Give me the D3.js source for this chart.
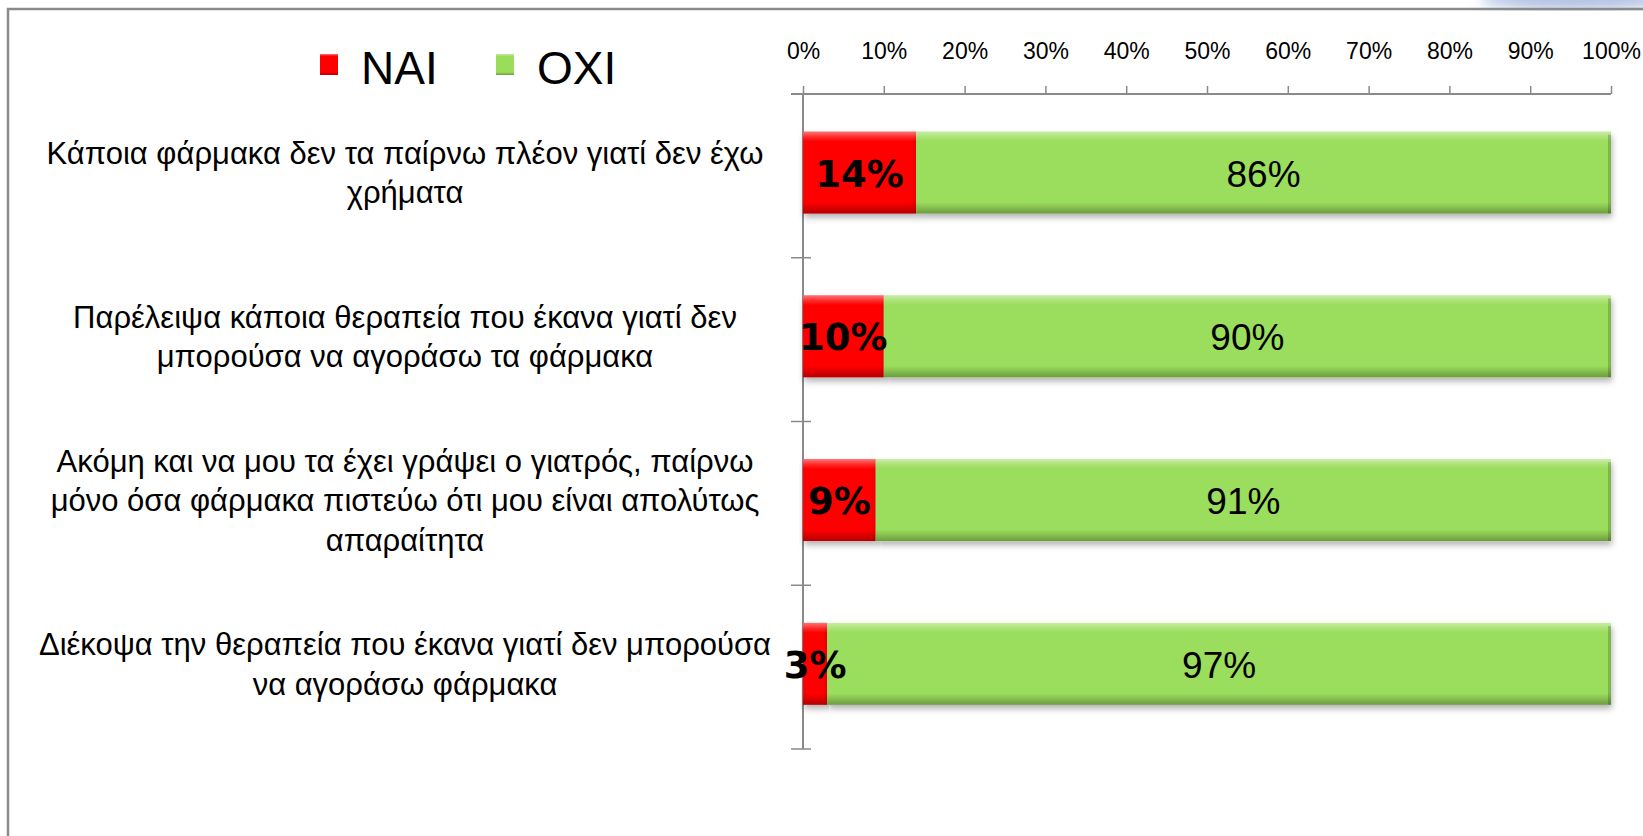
<!DOCTYPE html>
<html>
<head>
<meta charset="utf-8">
<script src="https://cdn.jsdelivr.net/npm/d3@7"></script>
<style>
  body { margin: 0; background: #fff; }
  svg { display: block; }
</style>
</head>
<body>
<div id="chart"></div>
<script>
// chart data
var categories = [
  ["Κάποια φάρμακα δεν τα παίρνω πλέον γιατί δεν έχω", "χρήματα"],
  ["Παρέλειψα κάποια θεραπεία που έκανα γιατί δεν", "μπορούσα να αγοράσω τα φάρμακα"],
  ["Ακόμη και να μου τα έχει γράψει ο γιατρός, παίρνω", "μόνο όσα φάρμακα πιστεύω ότι μου είναι απολύτως", "απαραίτητα"],
  ["Διέκοψα την θεραπεία που έκανα γιατί δεν μπορούσα", "να αγοράσω φάρμακα"]
];
var naiValues = [14, 10, 9, 3];
var oxiValues = [86, 90, 91, 97];
var seriesNames = ["ΝΑΙ", "ΟΧΙ"];
var seriesColors = ["#ff0000", "#9bdd5b"];

var W = 1643, H = 836;
var margin = {top: 94, left: 803, right: 33, bottom: 87};

var svg = d3.select("#chart")
  .append("svg")
    .attr("width", W)
    .attr("height", H);

var defs = svg.append("defs");

// bevel shading used over every bar segment
var vg = defs.append("linearGradient")
    .attr("id", "bevelV").attr("x1", 0).attr("y1", 0).attr("x2", 0).attr("y2", 1);
[[0, "#fff", 0.45], [0.07, "#fff", 0.15], [0.12, "#fff", 0], [0.86, "#000", 0],
 [0.92, "#000", 0.12], [1, "#000", 0.3]].forEach(function(s) {
  vg.append("stop").attr("offset", s[0]).attr("stop-color", s[1]).attr("stop-opacity", s[2]);
});

var shadow = defs.append("filter").attr("id", "shadow")
    .attr("x", "-5%").attr("y", "-20%").attr("width", "110%").attr("height", "150%");
shadow.append("feDropShadow")
    .attr("dx", 1).attr("dy", 4).attr("stdDeviation", 3)
    .attr("flood-color", "#000").attr("flood-opacity", 0.3);

var blur = defs.append("filter").attr("id", "blur");
blur.append("feGaussianBlur").attr("stdDeviation", 6);

// decorative corner swoosh and frame
svg.append("ellipse")
    .attr("cx", 1575).attr("cy", 0).attr("rx", 95).attr("ry", 9)
    .attr("fill", "#aebfe2").attr("filter", "url(#blur)");
svg.append("rect")
    .attr("x", 8).attr("y", 9).attr("width", 1700).attr("height", 900)
    .attr("fill", "none").attr("stroke", "#8a8a8a").attr("stroke-width", 2.5);

// scales
var x = d3.scaleLinear()
  .domain([0, 100])
  .range([margin.left, W - margin.right + 1]);

var y = d3.scaleBand()
  .domain(d3.range(categories.length))
  .range([margin.top, H - margin.bottom])
  .paddingInner(0.5)
  .paddingOuter(0.25)
  .align(0.46);

// top axis
var xAxis = svg.append("g")
  .attr("transform", "translate(0," + margin.top + ")")
  .call(d3.axisTop(x)
    .tickValues(d3.range(0, 101, 10))
    .tickSize(8)
    .tickPadding(27)
    .tickFormat(function(d) { return d + "%"; }));
xAxis.select(".domain").remove();
xAxis.append("line")
  .attr("x1", margin.left - 12).attr("x2", x(100))
  .attr("stroke", "#8a8a8a").attr("stroke-width", 2);
xAxis.selectAll(".tick line").attr("stroke", "#8a8a8a").attr("stroke-width", 1.5);
xAxis.selectAll(".tick text")
  .attr("fill", "#000")
  .style("font-family", "'Liberation Sans', Arial, sans-serif")
  .style("font-size", "23px");

// category axis line with ticks at band edges
var yAxis = svg.append("g");
yAxis.append("line")
  .attr("x1", margin.left).attr("x2", margin.left)
  .attr("y1", margin.top).attr("y2", H - margin.bottom)
  .attr("stroke", "#8a8a8a").attr("stroke-width", 2);
yAxis.selectAll("line.ytick")
  .data(d3.range(categories.length + 1))
  .enter().append("line")
    .attr("class", "ytick")
    .attr("x1", margin.left - 12).attr("x2", margin.left + 8)
    .attr("y1", function(i) { return margin.top + i * y.step(); })
    .attr("y2", function(i) { return margin.top + i * y.step(); })
    .attr("stroke", "#8a8a8a").attr("stroke-width", 1.5);

// bars
var rows = categories.map(function(c, i) {
  return {i: i, nai: naiValues[i], oxi: oxiValues[i]};
});

var bar = svg.selectAll("g.bar")
  .data(rows)
  .enter().append("g")
    .attr("class", "bar");

function segment(g, x0, x1, color) {
  var yy = y(g.datum().i), h = y.bandwidth();
  g.append("rect")
    .attr("x", x(x0)).attr("y", yy)
    .attr("width", x(x1) - x(x0)).attr("height", h)
    .attr("fill", color).attr("filter", "url(#shadow)");
  g.append("rect")
    .attr("x", x(x0)).attr("y", yy)
    .attr("width", x(x1) - x(x0)).attr("height", h)
    .attr("fill", "url(#bevelV)");
}

bar.each(function(d) {
  var g = d3.select(this);
  segment(g, 0, d.nai, seriesColors[0]);
  segment(g, d.nai, d.nai + d.oxi, seriesColors[1]);
  // right bevel edge
  g.append("rect")
    .attr("x", x(d.nai + d.oxi) - 3).attr("y", y(d.i) + 3)
    .attr("width", 3).attr("height", y.bandwidth() - 3)
    .attr("fill", "#000").attr("opacity", 0.18);
});

// value labels
bar.append("text")
  .attr("x", function(d) { return (x(0) + x(d.nai)) / 2; })
  .attr("y", function(d) { return y(d.i) + y.bandwidth() / 2 + 14; })
  .attr("text-anchor", "middle")
  .style("font-family", "'DejaVu Sans', Verdana, sans-serif")
  .style("font-weight", "bold")
  .style("font-size", "37px")
  .text(function(d) { return d.nai + "%"; });

bar.append("text")
  .attr("x", function(d) { return (x(d.nai) + x(d.nai + d.oxi)) / 2; })
  .attr("y", function(d) { return y(d.i) + y.bandwidth() / 2 + 14; })
  .attr("text-anchor", "middle")
  .style("font-family", "'Liberation Sans', Arial, sans-serif")
  .style("font-size", "37px")
  .text(function(d) { return d.oxi + "%"; });

// category labels
var lineH = 39.5;
var labels = svg.selectAll("text.cat")
  .data(categories)
  .enter().append("text")
    .attr("class", "cat")
    .attr("text-anchor", "middle")
    .style("font-family", "'Liberation Sans', Arial, sans-serif")
    .style("font-size", "31px")
    .attr("fill", "#000");

labels.each(function(lines, i) {
  var t = d3.select(this);
  var cy = y(i) + y.bandwidth() / 2;
  var first = cy - (lines.length - 1) * lineH / 2 + 11;
  lines.forEach(function(l, k) {
    t.append("tspan")
      .attr("x", 405)
      .attr("y", first + k * lineH)
      .text(l);
  });
});

// legend
var legend = svg.selectAll("g.legend")
  .data(seriesNames)
  .enter().append("g")
    .attr("class", "legend")
    .attr("transform", function(d, i) { return "translate(" + (320 + i * 176) + ",54)"; });

legend.append("rect")
  .attr("width", 18).attr("height", 21)
  .attr("fill", function(d, i) { return seriesColors[i]; });
legend.append("rect")
  .attr("width", 18).attr("height", 21)
  .attr("fill", "url(#bevelV)");
legend.append("text")
  .attr("x", 41).attr("y", 30)
  .style("font-family", "'Liberation Sans', Arial, sans-serif")
  .style("font-size", "46px")
  .text(function(d) { return d; });
</script>
</body>
</html>
